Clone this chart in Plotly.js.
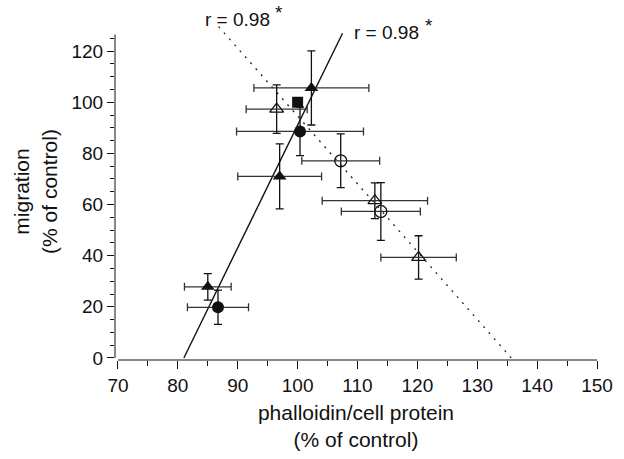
<!DOCTYPE html>
<html>
<head>
<meta charset="utf-8">
<script src="https://cdn.plot.ly/plotly-3.0.1.min.js"></script>
<style>html,body{margin:0;padding:0;background:#fff;}#chart{width:624px;height:459px;}</style>
</head>
<body>
<div id="chart"></div>
<script>
// Filled triangles
var triFilledX = [85.0, 97.0, 102.3];
var triFilledY = [27.8, 71.0, 105.6];
var triFilledXErr = [3.9, 7.0, 9.6];
var triFilledYErr = [5.2, 12.7, 14.5];
// Filled circles
var circFilledX = [86.7, 100.4];
var circFilledY = [19.8, 88.6];
var circFilledXErr = [5.1, 10.6];
var circFilledYErr = [6.7, 9.5];
// Control (filled square)
var controlX = [100];
var controlY = [100];
// Open triangles
var triOpenX = [96.5, 112.9, 120.2];
var triOpenY = [97.3, 61.5, 39.3];
var triOpenXErr = [5.1, 8.8, 6.3];
var triOpenYErr = [9.5, 7.0, 8.5];
// Open circles
var circOpenX = [107.2, 113.9];
var circOpenY = [77.1, 57.3];
var circOpenXErr = [6.5, 6.6];
var circOpenYErr = [10.5, 11.3];
// Regression lines
var fitSolidX = [81.0, 107.5];
var fitSolidY = [0, 127];
var fitDotX = [86.8, 135.7];
var fitDotY = [129.6, 0];
var corrLabel = "r = 0.98";

var ink = "#111";
function errs(xe, ye) {
  return {
    error_x: {type: "data", array: xe, visible: true, color: "#333", thickness: 1.3, width: 4},
    error_y: {type: "data", array: ye, visible: true, color: ink, thickness: 1.3, width: 4}
  };
}
var traces = [
  {x: fitSolidX, y: fitSolidY, mode: "lines", line: {color: ink, width: 1.4}, hoverinfo: "skip"},
  {x: fitDotX, y: fitDotY, mode: "lines", line: {color: "#222", width: 1.3, dash: "2px,6px"}, hoverinfo: "skip"},
  Object.assign({x: triFilledX, y: triFilledY, mode: "markers", marker: {symbol: "triangle-up", size: 12, color: ink}}, errs(triFilledXErr, triFilledYErr)),
  Object.assign({x: circFilledX, y: circFilledY, mode: "markers", marker: {symbol: "circle", size: 12, color: ink}}, errs(circFilledXErr, circFilledYErr)),
  {x: controlX, y: controlY, mode: "markers", marker: {symbol: "square", size: 11, color: ink}},
  Object.assign({x: triOpenX, y: triOpenY, mode: "markers", marker: {symbol: "triangle-up-open", size: 12, color: ink, line: {width: 1.3, color: ink}}}, errs(triOpenXErr, triOpenYErr)),
  Object.assign({x: circOpenX, y: circOpenY, mode: "markers", marker: {symbol: "circle-open", size: 12, color: ink, line: {width: 1.3, color: ink}}}, errs(circOpenXErr, circOpenYErr))
];

var fontFam = "Liberation Sans, Arial, Helvetica, sans-serif";
var layout = {
  width: 624, height: 459,
  margin: {l: 115, r: 27, t: 23, b: 99},
  paper_bgcolor: "#fff", plot_bgcolor: "#fff",
  showlegend: false,
  font: {family: fontFam, size: 19, color: ink},
  xaxis: {
    range: [69.5, 150], showgrid: false, zeroline: false, showline: false,
    tickmode: "array", tickvals: [70, 80, 90, 100, 110, 120, 130, 140, 150],
    ticks: "outside", ticklen: 8, tickwidth: 1, tickcolor: ink,
    minor: {tickvals: [75, 85, 95, 105, 115, 125, 135, 145], ticks: "outside", ticklen: 5, tickwidth: 1, tickcolor: ink},
    tickfont: {size: 19},
    title: {text: "phalloidin/cell protein<br>(% of control)", font: {size: 21}, standoff: 10}
  },
  yaxis: {
    range: [-0.8, 131], showgrid: false, zeroline: false, showline: false,
    tickmode: "array", tickvals: [0, 20, 40, 60, 80, 100, 120],
    ticks: "outside", ticklen: 7, tickwidth: 1, tickcolor: ink,
    minor: {tickvals: [5, 10, 15, 25, 30, 35, 45, 50, 55, 65, 70, 75, 85, 90, 95, 105, 110, 115, 125], ticks: "outside", ticklen: 4, tickwidth: 1, tickcolor: ink},
    tickfont: {size: 19},
    title: {text: "migration<br>(% of control)", font: {size: 21}, standoff: 8}
  },
  shapes: [
    {type: "line", xref: "paper", yref: "y", x0: 0, x1: 0, y0: 0, y1: 126.5, line: {color: ink, width: 1}},
    {type: "line", xref: "x", yref: "paper", x0: 70, x1: 150, y0: 0, y1: 0, line: {color: ink, width: 1}}
  ],
  annotations: [
    {xref: "x", yref: "paper", x: 90.0, y: 1.0104, yanchor: "middle", xanchor: "center", text: corrLabel, showarrow: false, font: {size: 19}},
    {xref: "x", yref: "paper", x: 96.9, y: 1.030, yanchor: "middle", xanchor: "center", text: "*", showarrow: false, font: {size: 19}},
    {xref: "x", yref: "paper", x: 114.8, y: 0.972, yanchor: "middle", xanchor: "center", text: corrLabel, showarrow: false, font: {size: 19}},
    {xref: "x", yref: "paper", x: 122.0, y: 0.992, yanchor: "middle", xanchor: "center", text: "*", showarrow: false, font: {size: 19}}
  ]
};
Plotly.newPlot("chart", traces, layout, {displayModeBar: false, staticPlot: true});
</script>
</body>
</html>
